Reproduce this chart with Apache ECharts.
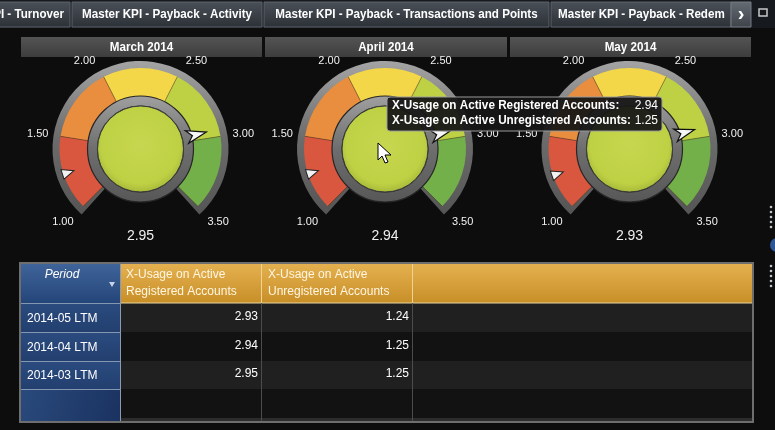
<!DOCTYPE html>
<html><head><meta charset="utf-8">
<script src="https://cdn.jsdelivr.net/npm/echarts@6/dist/echarts.min.js"></script>
<style>html,body{margin:0;padding:0;background:#0d0d0d;overflow:hidden}#c{width:775px;height:430px}</style>
</head><body><div id="c"></div>
<script>
// ---------- data ----------
const tabLabels = ['Master KPI - Turnover', 'Master KPI - Payback - Activity', 'Master KPI - Payback - Transactions and Points', 'Master KPI - Payback - Redem'];
const months = ['March 2014', 'April 2014', 'May 2014'];
const gaugeRegistered = [2.95, 2.94, 2.93];
const gaugeUnregistered = [1.25, 1.25, 1.24];
const scaleMin = 1.0, scaleMax = 3.5;
const bandLimits = [1.5, 2.0, 2.5, 3.0, 3.5];
const bandColors = ['#d9573f', '#e88e3e', '#f4d748', '#bed144', '#73b049'];
const periods = ['2014-05 LTM', '2014-04 LTM', '2014-03 LTM'];
const colHeaders = [['Period'], ['X-Usage on Active', 'Registered Accounts'], ['X-Usage on Active', 'Unregistered Accounts']];
const tableRegistered = [2.93, 2.94, 2.95];
const tableUnregistered = [1.24, 1.25, 1.25];
const tooltipLabels = ['X-Usage on Active Registered Accounts:', 'X-Usage on Active Unregistered Accounts:'];
const tooltipIndex = 1;

// ---------- layout / style ----------
const FONT = "'Liberation Sans', Arial, sans-serif";
const LG = (a, b, c, d, stops) => new echarts.graphic.LinearGradient(a, b, c, d, stops.map((s, i) => ({offset: i / (stops.length - 1), color: s})));
const panelX = [21, 265, 510], panelW = [241, 242, 241];
const CY = 149;

const mctx = document.createElement('canvas').getContext('2d');
function measure(text, font) { mctx.font = font; return mctx.measureText(text).width; }
const TAB_FONT = 'bold 13px ' + FONT;
const narrowScale = 170 / measure(tabLabels[1], TAB_FONT);
const TIP_FONT = 'bold 12px ' + FONT;
const tipScale = Math.min(1, 239 / measure(tooltipLabels[1], TIP_FONT));

const chart = echarts.init(document.getElementById('c'), null, {renderer: 'canvas'});

function R(x, y, w, h, fill, extra) {
  return Object.assign({type: 'rect', shape: {x, y, width: w, height: h}, style: {fill}, silent: true, z: 0}, extra || {});
}
function T(x, y, text, font, fill, align, valign, z, sx) {
  align = align || 'left'; valign = valign || 'middle';
  return {type: 'text', x, y, scaleX: sx || 1, silent: true, z: z || 1,
    style: {text, font, fill, align, verticalAlign: valign, textAlign: align, textVerticalAlign: valign}};
}
function L(x1, y1, x2, y2, stroke, w, z) {
  return {type: 'line', shape: {x1, y1, x2, y2}, style: {stroke, lineWidth: w || 1}, silent: true, z: z || 1};
}

const graphic = [];
// tab bar
graphic.push(R(0, 0, 775, 28, '#16191d'));
const tabEdges = [[-150, 70], [72, 262], [264, 549], [551, 731]];
tabEdges.forEach((e, i) => {
  graphic.push(R(e[0], 2, e[1] - e[0], 25, '', {style: {fill: LG(0, 0, 0, 1, ['#4a5058', '#2c3137']), stroke: '#5d636b', lineWidth: 1}}));
  if (i === 0) graphic.push(T(64, 14, tabLabels[i], TAB_FONT, '#ffffff', 'right', 'middle', 1, narrowScale));
  else if (i === 3) graphic.push(T(558, 14, tabLabels[i], TAB_FONT, '#ffffff', 'left', 'middle', 1, narrowScale));
  else graphic.push(T((e[0] + e[1]) / 2, 14, tabLabels[i], TAB_FONT, '#ffffff', 'center', 'middle', 1, narrowScale));
});
graphic.push(R(731, 2, 20, 25, '', {z: 2, style: {fill: LG(0, 0, 0, 1, ['#656b73', '#3e434a']), stroke: '#767c84', lineWidth: 1}}));
graphic.push(T(741, 14, '›', 'bold 20px ' + FONT, '#ffffff', 'center', 'middle', 3));
graphic.push(R(759, 9, 8, 7, 'none', {style: {fill: 'none', stroke: '#c8c8c8', lineWidth: 1.5}}));

// panel headers
months.forEach((m, i) => {
  graphic.push(R(panelX[i], 37, panelW[i], 20, '', {style: {fill: LG(0, 0, 0, 1, ['#545454', '#3d3d3d'])}}));
  graphic.push(T(panelX[i] + panelW[i] / 2, 47, m, TAB_FONT, '#ffffff', 'center', 'middle', 1, narrowScale));
});

// table
const colX = [21, 120, 261, 412, 752];
const headTop = 264, headBot = 303;
const rowTops = [303, 332, 361, 389, 418];
graphic.push(R(20, 263, 733, 159, '', {style: {fill: '#151515', stroke: '#6e6e6e', lineWidth: 2}}));
graphic.push(R(colX[1], headTop, colX[4] - colX[1], headBot - headTop, '', {style: {fill: LG(0, 0, 0, 1, ['#e4b04f', '#c88f28'])}}));
for (let r = 0; r < 4; r++) {
  graphic.push(R(colX[1], rowTops[r], colX[4] - colX[1], rowTops[r + 1] - rowTops[r], r % 2 === 0 ? '#202020' : '#121212'));
}
graphic.push(R(colX[1], 418, colX[4] - colX[1], 3, '#2c2c2c'));
graphic.push(L(colX[1], headBot, colX[4], headBot, '#ead59e', 1));
[colX[2], colX[3]].forEach(x => {
  graphic.push(L(x + 0.5, headTop, x + 0.5, headBot, '#eed393', 1));
  graphic.push(L(x + 0.5, headBot, x + 0.5, 421, '#4c4c4c', 1));
});
// period column
graphic.push(R(colX[0], headTop, colX[1] - colX[0], headBot - headTop, '', {style: {fill: LG(0, 0, 0, 1, ['#3f6499', '#24457a'])}}));
for (let r = 0; r < 4; r++) {
  const h = (r === 3 ? 421 : rowTops[r + 1]) - rowTops[r];
  graphic.push(R(colX[0], rowTops[r], colX[1] - colX[0], h, '', {style: {fill: r === 3 ? LG(0, 0, 1, 1, ['#2a4a7d', '#1a3260']) : LG(0, 0, 0, 1, ['#2b4b7f', '#223f6f'])}}));
  graphic.push(L(colX[0], rowTops[r] + 0.5, colX[1], rowTops[r] + 0.5, '#8596b0', 1, 2));
}
graphic.push(L(colX[1] + 0.5, headTop, colX[1] + 0.5, 421, '#8a9ab2', 1, 2));
graphic.push(T(62, 275, colHeaders[0][0], 'italic 12px ' + FONT, '#ffffff', 'center'));
graphic.push({type: 'polygon', shape: {points: [[109, 282], [115, 282], [112, 287]]}, style: {fill: '#c9d4e6'}, silent: true, z: 2});
[[126, colHeaders[1]], [268, colHeaders[2]]].forEach(([x, lines]) => {
  lines.forEach((ln, k) => graphic.push(T(x, 275 + k * 17, ln, '12px ' + FONT, '#fff6e2', 'left', 'middle')));
});
periods.forEach((p, r) => {
  const ym = (rowTops[r] + rowTops[r + 1]) / 2 + 1;
  graphic.push(T(27, ym, p, '12px ' + FONT, '#ffffff', 'left'));
  graphic.push(T(258, ym - 2, tableRegistered[r].toFixed(2), '12px ' + FONT, '#ffffff', 'right'));
  graphic.push(T(409, ym - 2, tableUnregistered[r].toFixed(2), '12px ' + FONT, '#ffffff', 'right'));
});

// right edge decorations
[207, 212, 217, 222, 227, 266, 271, 276, 281, 286].forEach(y => graphic.push({type: 'circle', shape: {cx: 771, cy: y, r: 1.3}, style: {fill: '#bfc4cc'}, silent: true}));
graphic.push({type: 'circle', shape: {cx: 777, cy: 245, r: 7}, style: {fill: '#2e5596'}, silent: true});

// tooltip at April gauge
const ttx = 387, tty = 97;
graphic.push(R(ttx, tty, 275, 34, '', {z: 100, shape: {x: ttx, y: tty, width: 275, height: 34, r: 3}, style: {fill: 'rgba(22,22,22,0.94)', stroke: '#9a9a9a', lineWidth: 1}}));
graphic.push(T(ttx + 5, tty + 9, tooltipLabels[0], TIP_FONT, '#ffffff', 'left', 'middle', 101, tipScale));
graphic.push(T(ttx + 5, tty + 24, tooltipLabels[1], TIP_FONT, '#ffffff', 'left', 'middle', 101, tipScale));
graphic.push(T(ttx + 271, tty + 9, gaugeRegistered[tooltipIndex].toFixed(2), '12px ' + FONT, '#ffffff', 'right', 'middle', 101));
graphic.push(T(ttx + 271, tty + 24, gaugeUnregistered[tooltipIndex].toFixed(2), '12px ' + FONT, '#ffffff', 'right', 'middle', 101));
// mouse cursor
graphic.push({type: 'polygon', shape: {points: [[378, 143], [378, 160], [382, 156], [385, 163], [388, 162], [385, 155], [391, 155]]}, style: {fill: '#ffffff', stroke: '#000000', lineWidth: 1}, silent: true, z: 110});

// ---------- series ----------
const span = scaleMax - scaleMin;
const bandStops = bandLimits.map((b, i) => [(b - scaleMin) / span, bandColors[i]]);
function bandColor(v) { for (let i = 0; i < bandLimits.length; i++) if (v <= bandLimits[i]) return bandColors[i]; return bandColors[bandColors.length - 1]; }
const off = {axisTick: {show: false}, splitLine: {show: false}, axisLabel: {show: false}, pointer: {show: false}, anchor: {show: false}, title: {show: false}, detail: {show: false}};

const series = [];
months.forEach((m, i) => {
  const cx = panelX[i] + panelW[i] / 2 - 1;
  const center = [cx, CY];
  // grey bezel
  series.push(Object.assign({type: 'gauge', center, radius: 88, startAngle: 228, endAngle: -48, min: scaleMin, max: scaleMax, silent: true, z: 1,
    axisLine: {lineStyle: {width: 42, color: [[1, LG(0, 0, 0, 1, ['#a4a4a4', '#6c6c6c', '#555555'])]]}}, data: [{value: scaleMin}]}, off));
  // colour bands
  series.push(Object.assign({}, off, {type: 'gauge', center, radius: 81, startAngle: 225, endAngle: -45, min: scaleMin, max: scaleMax, splitNumber: 5, silent: true, z: 2,
    axisLine: {lineStyle: {width: 33, color: bandStops}},
    splitLine: {show: true, distance: -33, length: 33, lineStyle: {color: 'rgba(50,35,10,0.45)', width: 1}},
    data: [{value: scaleMin}]}));
  // inner knob ring + fill
  series.push({type: 'pie', center, radius: [43, 53], silent: true, z: 3, label: {show: false}, labelLine: {show: false}, emphasis: {disabled: true}, animation: false,
    itemStyle: {color: LG(0, 0, 0, 1, ['#a0a0a0', '#6e6e6e', '#575757']), borderColor: '#262626', borderWidth: 1.2}, data: [{value: 1}]});
  const bc = bandColor(gaugeRegistered[i]);
  series.push({type: 'pie', center, radius: [0, 43], silent: true, z: 4, label: {show: false}, labelLine: {show: false}, emphasis: {disabled: true}, animation: false,
    itemStyle: {color: new echarts.graphic.RadialGradient(0.5, 0.45, 0.6, [{offset: 0, color: '#c7d64f'}, {offset: 0.75, color: bc}, {offset: 1, color: '#9dac34'}]), borderColor: '#3b3b3b', borderWidth: 1}, data: [{value: 1}]});
  // tick labels (left and right halves)
  const lbl = {show: true, distance: 0, color: '#f2f2f2', fontSize: 11, fontFamily: FONT, formatter: v => v.toFixed(2)};
  series.push(Object.assign({}, off, {type: 'gauge', center, radius: 114.5, startAngle: 219.5, endAngle: 125.6, min: scaleMin, max: scaleMin + 1.0, splitNumber: 2, silent: true, z: 5,
    axisLine: {show: false}, splitLine: {show: false, length: 0, distance: 0}, axisLabel: lbl, data: []}));
  series.push(Object.assign({}, off, {type: 'gauge', center, radius: 114.5, startAngle: 54.4, endAngle: -39.5, min: scaleMax - 1.0, max: scaleMax, splitNumber: 2, silent: true, z: 5,
    axisLine: {show: false}, splitLine: {show: false, length: 0, distance: 0}, axisLabel: lbl, data: []}));
  // unregistered pointer
  series.push(Object.assign({}, off, {type: 'gauge', center, radius: 81, startAngle: 225, endAngle: -45, min: scaleMin, max: scaleMax, silent: true, z: 6,
    axisLine: {show: false},
    pointer: {show: true, icon: 'path://M0,0 L100,0 L50,100 Z', width: 10, length: 12, offsetCenter: [0, -70]},
    itemStyle: {color: '#f2f2f2', borderColor: '#222', borderWidth: 1},
    data: [{value: gaugeUnregistered[i], name: 'X-Usage on Active Unregistered Accounts'}]}));
  // registered pointer + value
  series.push(Object.assign({}, off, {type: 'gauge', center, radius: 81, startAngle: 225, endAngle: -45, min: scaleMin, max: scaleMax, silent: true, z: 7,
    axisLine: {show: false},
    pointer: {show: true, icon: 'path://M50,0 L100,100 L50,72 L0,100 Z', width: 13, length: 20, offsetCenter: [0, -48]},
    itemStyle: {color: '#f6f6f6', borderColor: '#111', borderWidth: 1.2},
    detail: {show: true, offsetCenter: [0, 87], color: '#f0f0f0', fontSize: 14, fontWeight: 'normal', fontFamily: FONT, formatter: v => v.toFixed(2)},
    data: [{value: gaugeRegistered[i], name: 'X-Usage on Active Registered Accounts'}]}));
});

chart.setOption({backgroundColor: '#0d0d0d', animation: false, series, graphic: {elements: graphic}});
</script></body></html>
